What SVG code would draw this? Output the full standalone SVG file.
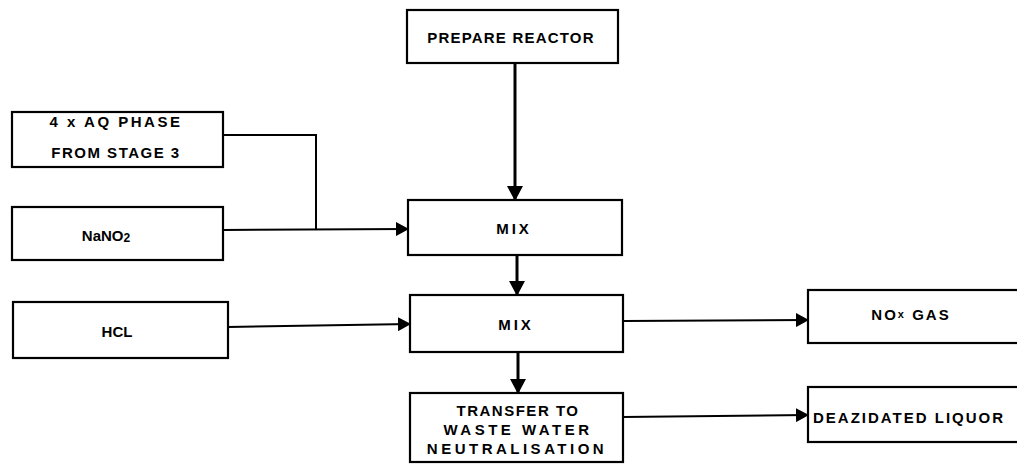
<svg xmlns="http://www.w3.org/2000/svg" width="1017" height="464" viewBox="0 0 1017 464">
<style>
.box{fill:#fff;stroke:#000;stroke-width:2.2}
.t{font-family:"Liberation Sans",Arial,sans-serif;font-weight:bold;font-size:15px;fill:#000;text-anchor:middle;dominant-baseline:central}
.c{fill:none;stroke:#000;stroke-width:2}
.v{fill:none;stroke:#000;stroke-width:3}
</style>
<defs>
<marker id="ah" markerWidth="13" markerHeight="14" refX="12" refY="7" orient="auto" markerUnits="userSpaceOnUse">
<path d="M0,0 L13,7 L0,14 z" fill="#000"/>
</marker>
<marker id="av" markerWidth="15" markerHeight="16" refX="14" refY="8" orient="auto" markerUnits="userSpaceOnUse">
<path d="M0,0 L15,8 L0,16 z" fill="#000"/>
</marker>
</defs>
<rect width="1017" height="464" fill="#fff"/>
<g id="connectors">
<line class="v" x1="515" y1="63" x2="515" y2="200" marker-end="url(#av)"/>
<polyline class="c" points="223,135 316,135 316,230"/>
<line class="c" x1="223" y1="230" x2="408" y2="229" marker-end="url(#ah)"/>
<line class="v" x1="517" y1="255" x2="517" y2="295" marker-end="url(#av)"/>
<line class="c" x1="228" y1="327" x2="410" y2="324" marker-end="url(#ah)"/>
<line class="c" x1="623" y1="321" x2="808" y2="320" marker-end="url(#ah)"/>
<line class="v" x1="518" y1="352" x2="518" y2="393" marker-end="url(#av)"/>
<line class="c" x1="623" y1="417" x2="808" y2="415" marker-end="url(#ah)"/>
</g>
<g id="prepare"><rect class="box" x="407" y="10" width="211" height="53"/><text class="t" x="511" y="37" letter-spacing="1.2">PREPARE REACTOR</text></g>
<g id="aqphase"><rect class="box" x="12" y="112" width="211" height="55"/><text class="t" x="116" y="121" letter-spacing="2.5">4 x AQ PHASE</text><text class="t" x="116" y="152" letter-spacing="1.5">FROM STAGE 3</text></g>
<g id="nano2"><rect class="box" x="12" y="207" width="211" height="53"/><text class="t" x="106" y="235">NaNO<tspan font-size="12" dy="3">2</tspan></text></g>
<g id="mix1"><rect class="box" x="408" y="200" width="214" height="55"/><text class="t" x="514" y="228" letter-spacing="3">MIX</text></g>
<g id="hcl"><rect class="box" x="13" y="302" width="215" height="56"/><text class="t" x="117" y="331">HCL</text></g>
<g id="mix2"><rect class="box" x="410" y="295" width="213" height="57"/><text class="t" x="516" y="324" letter-spacing="3">MIX</text></g>
<g id="nox"><rect class="box" x="808" y="290" width="215" height="53"/><text class="t" x="911" y="314" letter-spacing="2">NO<tspan font-size="11">x</tspan> GAS</text></g>
<g id="transfer"><rect class="box" x="410" y="393" width="213" height="69"/><text class="t" x="518" y="410" letter-spacing="1.5">TRANSFER TO</text><text class="t" x="518" y="429" letter-spacing="3.5">WASTE WATER</text><text class="t" x="517" y="448" letter-spacing="3.5">NEUTRALISATION</text></g>
<g id="deazidated"><rect class="box" x="808" y="387" width="215" height="55"/><text class="t" x="813" y="417" style="text-anchor:start" letter-spacing="2">DEAZIDATED LIQUOR</text></g>
</svg>
